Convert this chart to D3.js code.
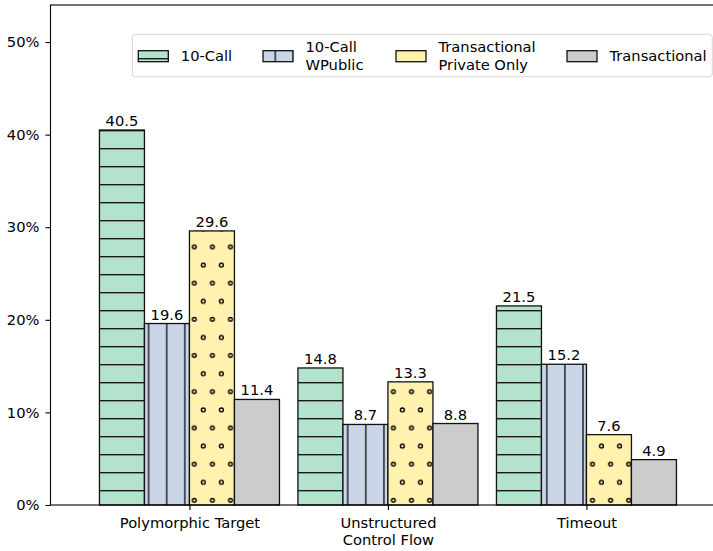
<!DOCTYPE html>
<html>
<head>
<meta charset="utf-8">
<title>failure reasons</title>
<script src="https://cdnjs.cloudflare.com/ajax/libs/d3/7.8.5/d3.min.js"></script>
<style>
  body { margin: 0; background: #fff; }
  text { font-family: "DejaVu Sans", sans-serif; }
</style>
</head>
<body>
<div id="chart"></div>
<script>
// data
var categories = ["Polymorphic Target", "Unstructured\nControl Flow", "Timeout"];
var seriesNames = ["10-Call", "10-Call\nWPublic", "Transactional\nPrivate Only", "Transactional"];
var call10 = [40.5, 14.8, 21.5];
var call10WPublic = [19.6, 8.7, 15.2];
var transPrivateOnly = [29.6, 13.3, 7.6];
var transactional = [11.4, 8.8, 4.9];
var yTicks = [0, 10, 20, 30, 40, 50];

var series = [call10, call10WPublic, transPrivateOnly, transactional];
var colors = ["#b3e2cd", "#cbd5e8", "#fff2ae", "#cccccc"];
var hatches = ["hatch-h", "hatch-v", "hatch-o", null];

var w = 713, h = 551;
var fs = "14.7px";
// note: "top" is taken by window.top, so use plotTop
var plotLeft = 50.5, plotTop = 5, plotBottom = 505;
var unit = 198.5;              // px per category
var xmin = -0.7, xmax = 2.95;
var barW = 0.2267;

var svg = d3.select("#chart").append("svg")
  .attr("width", w).attr("height", h);

var x = d3.scaleLinear().domain([xmin, xmax]).range([plotLeft, plotLeft + (xmax - xmin) * unit]);
var y = d3.scaleLinear().domain([0, 54]).range([plotBottom, plotTop]);

// hatch patterns, anchored in page space like matplotlib
var defs = svg.append("defs");
var ph = defs.append("pattern").attr("id", "hatch-h")
  .attr("patternUnits", "userSpaceOnUse").attr("width", 18.1).attr("height", 18);
ph.append("rect").attr("width", 18.1).attr("height", 18).attr("fill", colors[0]);
ph.append("line").attr("x1", -1).attr("x2", 19.1).attr("y1", 4.7).attr("y2", 4.7)
  .attr("stroke", "#1a1a1a").attr("stroke-width", 1.4);

var pv = defs.append("pattern").attr("id", "hatch-v")
  .attr("patternUnits", "userSpaceOnUse").attr("width", 18.1).attr("height", 18);
pv.append("rect").attr("width", 18.1).attr("height", 18).attr("fill", colors[1]);
pv.append("line").attr("y1", -1).attr("y2", 19).attr("x1", 3.8).attr("x2", 3.8)
  .attr("stroke", "#1a1a1a").attr("stroke-width", 1.4);

var po = defs.append("pattern").attr("id", "hatch-o")
  .attr("patternUnits", "userSpaceOnUse").attr("width", 18.1).attr("height", 36.2);
po.append("rect").attr("width", 18.1).attr("height", 36.2).attr("fill", colors[2]);
[[13.3, 29.7], [4.2, 11.7]].forEach(function (p) {
  po.append("circle").attr("cx", p[0]).attr("cy", p[1]).attr("r", 1.9)
    .attr("fill", "none").attr("stroke", "#000").attr("stroke-width", 1.4);
});

// bars
series.forEach(function (vals, s) {
  var g = svg.append("g");
  g.selectAll("rect").data(vals).enter().append("rect")
    .attr("x", function (d, i) { return x(i + (s - 2) * barW); })
    .attr("width", x(barW) - x(0))
    .attr("y", function (d) { return y(d); })
    .attr("height", function (d) { return y(0) - y(d); })
    .attr("fill", hatches[s] ? "url(#" + hatches[s] + ")" : colors[s])
    .attr("stroke", "#111").attr("stroke-width", 1.3);

  g.selectAll("text").data(vals).enter().append("text")
    .attr("x", function (d, i) { return x(i + (s - 1.5) * barW); })
    .attr("y", function (d) { return y(d) - 4; })
    .attr("text-anchor", "middle")
    .attr("font-size", fs)
    .text(function (d) { return d.toFixed(1); });
});

// y axis
var yAxis = svg.append("g").attr("transform", "translate(" + plotLeft + ",0)")
  .call(d3.axisLeft(y).tickValues(yTicks).tickSize(5).tickPadding(6)
    .tickFormat(function (d) { return d + "%"; }));
yAxis.select(".domain").remove();
yAxis.selectAll("text").attr("font-size", fs).attr("font-family", "DejaVu Sans").attr("fill", "#000");
yAxis.selectAll("line").attr("stroke", "#000").attr("stroke-width", 1.1);

// x axis
var xAxis = svg.append("g").attr("transform", "translate(0," + plotBottom + ")")
  .call(d3.axisBottom(x).tickValues([0, 1, 2]).tickSize(5).tickFormat(""));
xAxis.select(".domain").remove();
xAxis.selectAll("line").attr("stroke", "#000").attr("stroke-width", 1.1);
xAxis.selectAll(".tick").each(function (d, i) {
  var t = d3.select(this).append("text")
    .attr("text-anchor", "middle").attr("font-size", fs).attr("fill", "#000");
  categories[i].split("\n").forEach(function (line, k) {
    t.append("tspan").attr("x", 0).attr("y", 22.5 + k * 17.2).text(line);
  });
});

// frame
svg.append("rect")
  .attr("x", plotLeft).attr("y", plotTop)
  .attr("width", x(xmax) - plotLeft).attr("height", plotBottom - plotTop)
  .attr("fill", "none").attr("stroke", "#000").attr("stroke-width", 1.1);

// legend
var legend = svg.append("g");
legend.append("rect").attr("x", 132.3).attr("y", 34.3).attr("width", 580).attr("height", 42.5)
  .attr("rx", 3).attr("fill", "#fff").attr("fill-opacity", 0.8)
  .attr("stroke", "#d6d6d6").attr("stroke-width", 1);
var legX = [138.3, 263, 396, 567];
seriesNames.forEach(function (name, s) {
  legend.append("rect").attr("x", legX[s]).attr("y", 50.7).attr("width", 30).attr("height", 11)
    .attr("fill", hatches[s] ? "url(#" + hatches[s] + ")" : colors[s])
    .attr("stroke", "#111").attr("stroke-width", 1.3);
  var lines = name.split("\n");
  var t = legend.append("text").attr("font-size", fs);
  lines.forEach(function (line, k) {
    t.append("tspan").attr("x", legX[s] + 42.5)
      .attr("y", 61 + (k - (lines.length - 1) / 2) * 17.5)
      .text(line);
  });
});
</script>
</body>
</html>
